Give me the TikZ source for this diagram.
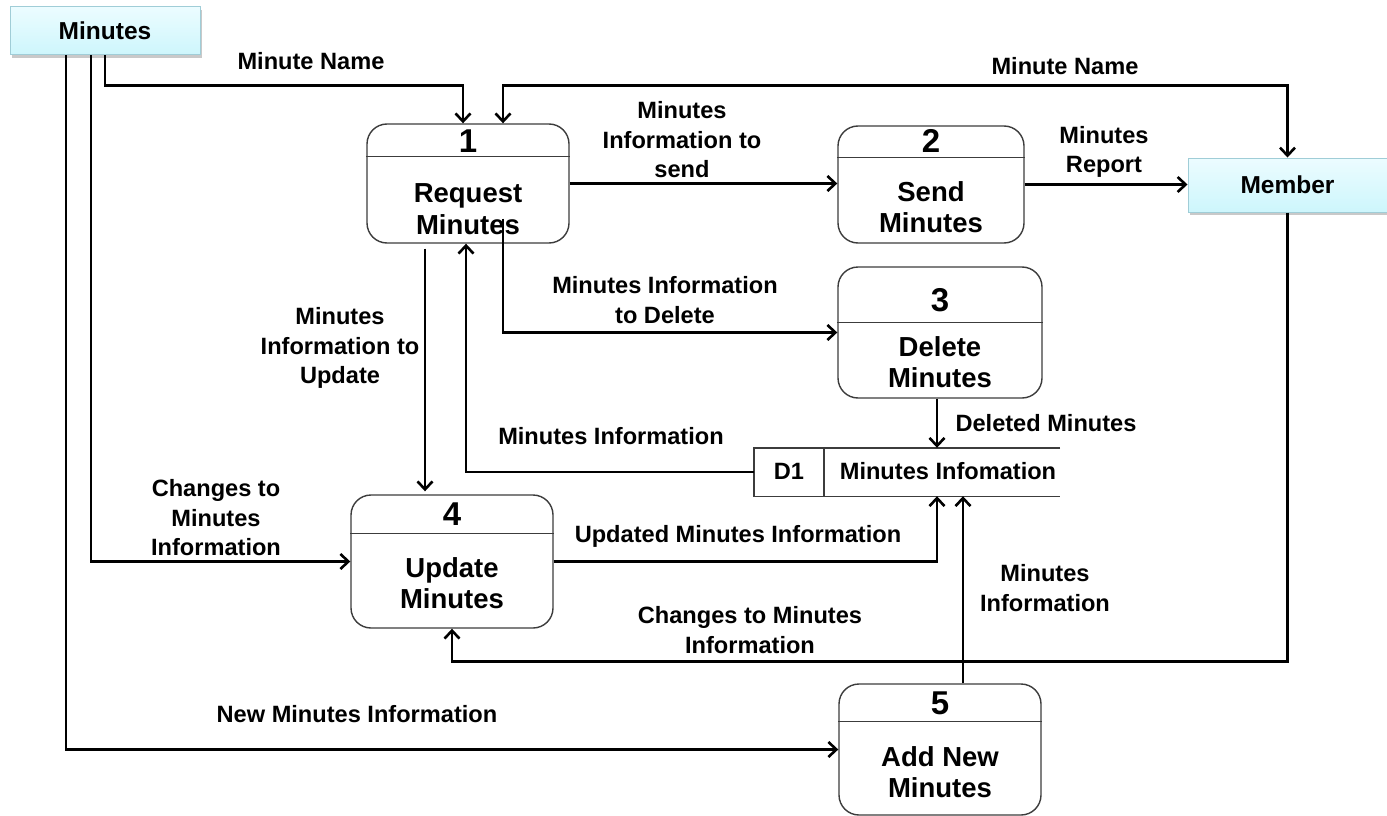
\documentclass[tikz,border=0pt]{standalone}
\usepackage{fontspec}
\setmainfont{Liberation Sans}
\usetikzlibrary{arrows.meta,shadows,calc}
\definecolor{entfillA}{RGB}{236,252,255}
\definecolor{entfillB}{RGB}{205,246,252}
\definecolor{entdraw}{RGB}{160,205,215}
\definecolor{procdraw}{RGB}{60,60,60}
\tikzset{
  ent/.style={draw=entdraw, line width=1pt, top color=entfillA, bottom color=entfillB,
    drop shadow={shadow xshift=2pt, shadow yshift=-3pt, fill=black!35, opacity=.6},
    font=\bfseries\fontsize{24.5}{28}\selectfont, inner sep=0pt},
  proc/.style={draw=procdraw, line width=1.4pt, rounded corners=20pt, fill=white, inner sep=0pt},
  divline/.style={draw=procdraw, line width=1.4pt},
  num/.style={font=\bfseries\fontsize{33}{36}\selectfont, inner sep=0pt},
  pname/.style={font=\bfseries\fontsize{27.5}{31.5}\selectfont, align=center, inner sep=0pt},
  lab/.style={font=\bfseries\fontsize{23.6}{29.5}\selectfont, align=center, inner sep=0pt},
  store/.style={draw=procdraw, line width=1.4pt},
  conn/.style={line width=2.6pt, line join=miter},
  arr/.style={conn, -{Straight Barb[length=8pt,width=15pt]}},
  arrb/.style={conn, {Straight Barb[length=8pt,width=15pt]}-{Straight Barb[length=8pt,width=15pt]}},
}
\begin{document}
\begin{tikzpicture}[x=1pt,y=-1pt]
\useasboundingbox[fill=white] (0,0) rectangle (1387,816);

% external entities
\node[ent, minimum width=190pt, minimum height=48pt] (m) at (105,31) {Minutes};
\node[ent, minimum width=199pt, minimum height=54pt] (mb) at (1287.5,185) {Member};

% processes
\node[proc, minimum width=202pt, minimum height=119pt] (p1) at (468,183.5) {};
\draw[divline] ([yshift=-33pt]p1.north west) -- ([yshift=-33pt]p1.north east);
\node[num] (n1) at (468,141) {1};
\node[pname] (t1) at (468,209) {Request\\Minutes};

\node[proc, minimum width=186pt, minimum height=117pt] (p2) at (931,184.5) {};
\draw[divline] ([yshift=-32pt]p2.north west) -- ([yshift=-32pt]p2.north east);
\node[num] (n2) at (931,141) {2};
\node[pname] (t2) at (931,207) {Send\\Minutes};

\node[proc, minimum width=204pt, minimum height=131pt] (p3) at (940,332.5) {};
\draw[divline] ([yshift=-56pt]p3.north west) -- ([yshift=-56pt]p3.north east);
\node[num] (n3) at (940,300) {3};
\node[pname] (t3) at (940,362) {Delete\\Minutes};

\node[proc, minimum width=202pt, minimum height=133pt] (p4) at (452,561.5) {};
\draw[divline] ([yshift=-39pt]p4.north west) -- ([yshift=-39pt]p4.north east);
\node[num] (n4) at (452,514) {4};
\node[pname] (t4) at (452,583) {Update\\Minutes};

\node[proc, minimum width=202pt, minimum height=131pt] (p5) at (940,749.5) {};
\draw[divline] ([yshift=-38pt]p5.north west) -- ([yshift=-38pt]p5.north east);
\node[num] (n5) at (940,703) {5};
\node[pname] (t5) at (940,772) {Add New\\Minutes};

% data store
\node[minimum width=306pt, minimum height=48pt, inner sep=0pt] (d1) at (907,472) {};
\draw[store] (d1.north east) -- (d1.north west) -- (d1.south west) -- (d1.south east);
\draw[store] ([xshift=70pt]d1.north west) -- ([xshift=70pt]d1.south west);
\node[lab] (d1id) at (789,471) {D1};
\node[lab] (d1name) at (948,471) {Minutes Infomation};

% connectors
\draw[arr] (m.south) -- ++(0,30) -| ([xshift=-5pt]p1.north);
\draw[arrb] ([xshift=35pt]p1.north) -- ++(0,-38) -| (mb.north);
\draw[arr] (p1.east) -- (p1.east -| p2.west);
\draw[arr] (p2.east) -- (p2.east -| mb.west);
\draw[arr] ([xshift=35pt,yshift=25pt]p1.south) |- (p3.west);
\draw[arr] ([xshift=-43pt,yshift=-5pt]p1.south) -- ([xshift=-27pt,yshift=3pt]p4.north);
\draw[arr] (d1.west) -| ([xshift=-2pt]p1.south);
\draw[arr] ([xshift=-3pt]p3.south) -- ([xshift=-3pt]p3.south |- d1.north);
\draw[arr] (p4.east) -| ([xshift=30pt]d1.south);
\draw[arr] ([xshift=23pt]p5.north) -- ([xshift=23pt]p5.north |- d1.south);
\draw[arr] (mb.south) -- ++(0,449) -| (p4.south);
\draw[arr] ([xshift=-14pt]m.south) |- (p4.west);
\draw[arr] ([xshift=-39pt]m.south) |- (p5.west);

% labels
\node[lab] (l1) at (311,61) {Minute Name};
\node[lab] (l2) at (1065,66) {Minute Name};
\node[lab] (l3) at (682,140) {Minutes\\Information to\\send};
\node[lab] (l4) at (1104,152) {Minutes\\Report};
\node[lab] (l5) at (665,300) {Minutes Information\\to Delete};
\node[lab] (l6) at (340,348) {Minutes\\Information to\\Update};
\node[lab] (l7) at (611,436) {Minutes Information};
\node[lab] (l8) at (1046,423) {Deleted Minutes};
\node[lab] (l9) at (216,518) {Changes to\\Minutes\\Information};
\node[lab] (l10) at (738,536) {Updated Minutes Information};
\node[lab] (l11) at (1045,588) {Minutes\\Information};
\node[lab] (l12) at (750,630) {Changes to Minutes\\Information};
\node[lab] (l13) at (357,714) {New Minutes Information};
\end{tikzpicture}
\end{document}
